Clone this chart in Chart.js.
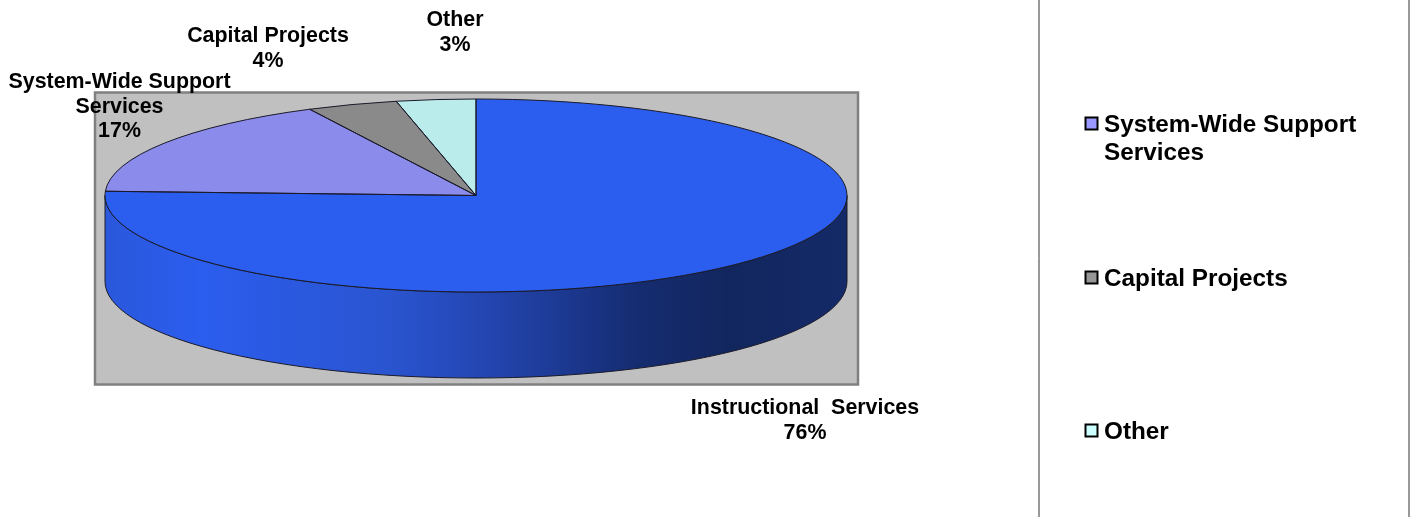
<!DOCTYPE html>
<html>
<head>
<meta charset="utf-8">
<title>Budget pie</title>
<script src="https://cdn.jsdelivr.net/npm/chart.js@4"></script>
<style>
  html, body { margin: 0; padding: 0; background: #fff; }
  canvas { display: block; }
</style>
</head>
<body>
<canvas id="myChart" width="1412" height="517"></canvas>
<script>
var categories = ['Instructional  Services', 'System-Wide Support Services', 'Capital Projects', 'Other'];
var shares = [75.7, 16.9, 3.95, 3.45];
var sliceColors = ['#2B5DEE', '#8B8BEB', '#8A8A8A', '#BAECEC'];
var legendColors = ['#9999FF', '#969696', '#CCFFFF'];

var FONT = '"Liberation Sans", Arial, sans-serif';
var RX = 371, RY = 96.5, DEPTH = 86;

// slice label text lines and where they sit (center x, first line y)
var labelSpots = [
  { lines: ['Instructional  Services'], x: 805, y: 408 },
  { lines: ['System-Wide Support', 'Services'], x: 119.5, y: 82 },
  { lines: ['Capital Projects'], x: 268, y: 36 },
  { lines: ['Other'], x: 455, y: 20 }
];
var legendSpots = [
  { lines: ['System-Wide Support', 'Services'], y: 125 },
  { lines: ['Capital Projects'], y: 279 },
  { lines: ['Other'], y: 432 }
];

var pie3d = {
  id: 'pie3d',
  beforeDatasetsDraw: function(chart) {
    var ctx = chart.ctx;
    var arc = chart.getDatasetMeta(0).data[0];
    var cx = arc.x, cy = arc.y;

    // plot area
    ctx.save();
    ctx.fillStyle = '#C0C0C0';
    ctx.fillRect(95, 92.5, 763, 292);
    ctx.strokeStyle = '#808080';
    ctx.lineWidth = 2.5;
    ctx.strokeRect(95, 92.5, 763, 292);

    // side wall of the pie
    var wall = ctx.createLinearGradient(cx - RX, 0, cx + RX, 0);
    wall.addColorStop(0, '#2A58DC');
    wall.addColorStop(0.13, '#2B5DEE');
    wall.addColorStop(0.38, '#2A55D0');
    wall.addColorStop(0.5, '#2447B5');
    wall.addColorStop(0.59, '#1E3C9A');
    wall.addColorStop(0.72, '#152C70');
    wall.addColorStop(0.84, '#12265E');
    wall.addColorStop(1, '#142A68');
    ctx.beginPath();
    ctx.ellipse(cx, cy, RX, RY, 0, 0, Math.PI);
    ctx.lineTo(cx - RX, cy + DEPTH);
    ctx.ellipse(cx, cy + DEPTH, RX, RY, 0, Math.PI, 0, true);
    ctx.closePath();
    ctx.fillStyle = wall;
    ctx.fill();
    ctx.strokeStyle = '#1A1A2A';
    ctx.lineWidth = 1;
    ctx.stroke();
    ctx.restore();

    // squash the round pie into an ellipse while the arcs draw
    ctx.save();
    ctx.translate(cx, cy);
    ctx.scale(1, RY / RX);
    ctx.translate(-cx, -cy);
  },
  afterDatasetsDraw: function(chart) {
    var ctx = chart.ctx;
    ctx.restore();

    // slice outlines, kept out of the squash so they stay even
    ctx.save();
    ctx.strokeStyle = '#1A1A2A';
    ctx.lineWidth = 1;
    chart.getDatasetMeta(0).data.forEach(function(arc) {
      ctx.beginPath();
      ctx.moveTo(arc.x, arc.y);
      ctx.ellipse(arc.x, arc.y, RX, RY, 0, arc.startAngle, arc.endAngle);
      ctx.closePath();
      ctx.stroke();
    });
    ctx.restore();
  },
  afterDraw: function(chart) {
    var ctx = chart.ctx;
    ctx.save();
    ctx.fillStyle = '#000';
    ctx.textBaseline = 'middle';
    ctx.textAlign = 'center';
    ctx.font = 'bold 21.4px ' + FONT;
    labelSpots.forEach(function(spot, i) {
      var lines = spot.lines.concat(Math.round(shares[i]) + '%');
      lines.forEach(function(line, j) {
        ctx.fillText(line, spot.x, spot.y + j * 24.7);
      });
    });

    // right panel edges
    ctx.strokeStyle = '#333';
    ctx.lineWidth = 1;
    ctx.beginPath();
    ctx.moveTo(1039, 0);
    ctx.lineTo(1039, 517);
    ctx.moveTo(1409, 0);
    ctx.lineTo(1409, 517);
    ctx.stroke();

    // legend, Instructional Services has no entry in the original
    ctx.textAlign = 'left';
    ctx.font = 'bold 24.3px ' + FONT;
    legendSpots.forEach(function(spot, i) {
      ctx.fillStyle = legendColors[i];
      ctx.fillRect(1085.5, spot.y - 7.5, 12, 12);
      ctx.strokeStyle = '#000';
      ctx.lineWidth = 2;
      ctx.strokeRect(1085.5, spot.y - 7.5, 12, 12);
      ctx.fillStyle = '#000';
      spot.lines.forEach(function(line, j) {
        ctx.fillText(line, 1104, spot.y + j * 28);
      });
    });
    ctx.restore();
  }
};

var ctx = document.getElementById('myChart').getContext('2d');
var myChart = new Chart(ctx, {
  type: 'pie',
  data: {
    labels: categories,
    datasets: [{
      data: shares,
      backgroundColor: sliceColors,
      borderWidth: 0,
      clip: false
    }]
  },
  options: {
    responsive: false,
    animation: false,
    radius: RX,
    layout: { padding: { left: 0, top: 0, right: 460, bottom: 126 } },
    plugins: {
      legend: { display: false },
      title: { display: false },
      tooltip: { enabled: false }
    }
  },
  plugins: [pie3d]
});
</script>
</body>
</html>
